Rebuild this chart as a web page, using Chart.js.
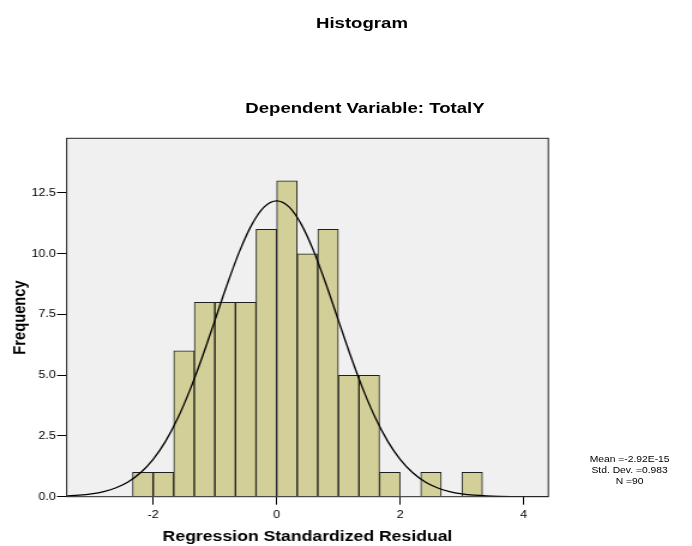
<!DOCTYPE html>
<html>
<head>
<meta charset="utf-8">
<script src="https://cdn.jsdelivr.net/npm/chart.js@4/dist/chart.umd.min.js"></script>
<style>
  html, body { margin: 0; padding: 0; background: #fff; overflow: hidden; }
  #wrap { position: absolute; left: 0; top: 0; width: 577px; height: 546px;
          transform: scaleX(1.1993); transform-origin: 0 0; }
  #c { position: absolute; left: 0; top: 0; }
  .t { position: absolute; font-family: 'Liberation Sans', Arial, sans-serif; color: #000;
       text-align: center; white-space: nowrap; }
  .title { font-weight: bold; font-size: 15.5px; line-height: 15.5px; width: 400px; }
  #stats { font-size: 8.6px; line-height: 11px; width: 160px; }
</style>
</head>
<body>
<div id="wrap">
  <canvas id="c" width="577" height="546"></canvas>
  <div class="t title" style="left:101.8px; top:14.7px;">Histogram</div>
  <div class="t title" style="left:104.3px; top:100.4px;">Dependent Variable: TotalY</div>
  <div class="t" id="stats" style="left:445px; top:453.5px;">Mean =-2.92E-15<br>Std. Dev. =0.983<br>N =90</div>
</div>
<script>
// ---- data ----
const binCenters = [-2.167, -1.833, -1.5, -1.167, -0.833, -0.5, -0.167, 0.167, 0.5, 0.833, 1.167, 1.5, 1.833, 2.167, 2.5, 2.833, 3.167];
const frequencies = [1, 1, 6, 8, 8, 8, 11, 13, 10, 11, 5, 5, 1, 0, 1, 0, 1];

// fitted normal curve (Mean ~0, Std. Dev. 0.983, N 90), values read at x steps of 0.2
const curveX = [-3.4, -3.2, -3.0, -2.8, -2.6, -2.4, -2.2, -2.0, -1.8, -1.6, -1.4, -1.2, -1.0, -0.8, -0.6, -0.4, -0.2, 0.0,
                0.2, 0.4, 0.6, 0.8, 1.0, 1.2, 1.4, 1.6, 1.8, 2.0, 2.2, 2.4, 2.6, 2.8, 3.0, 3.2, 3.4, 3.6, 3.8, 4.0, 4.2, 4.4];
const curveY = [0.031, 0.061, 0.116, 0.211, 0.369, 0.618, 0.995, 1.536, 2.277, 3.237, 4.416, 5.779, 7.257, 8.743, 10.106, 11.208, 11.926, 12.175,
                11.926, 11.208, 10.106, 8.743, 7.257, 5.779, 4.416, 3.237, 2.277, 1.536, 0.995, 0.618, 0.369, 0.211, 0.116, 0.061, 0.031, 0.015, 0.007, 0.003, 0.001, 0.001];

const xTicks = [-2, 0, 2, 4];
const yTicks = [0, 2.5, 5, 7.5, 10, 12.5];

const FONT = "'Liberation Sans', Arial, sans-serif";

const plotBox = {
  id: 'plotBox',
  beforeDatasetsDraw(chart) {
    const a = chart.chartArea, ctx = chart.ctx;
    ctx.save();
    ctx.fillStyle = '#F0F0F0';
    ctx.fillRect(a.left, a.top, a.right - a.left, a.bottom - a.top);
    ctx.restore();
  },
  afterDraw(chart) {
    const a = chart.chartArea, ctx = chart.ctx;
    ctx.save();
    ctx.strokeStyle = '#222';
    ctx.lineWidth = 1;
    ctx.strokeRect(a.left, a.top, a.right - a.left, a.bottom - a.top);
    ctx.restore();
  }
};

new Chart(document.getElementById('c'), {
  data: {
    datasets: [
      {
        type: 'line',
        order: 0,
        data: curveX.map((x, i) => ({ x: x, y: curveY[i] })),
        borderColor: '#000',
        borderWidth: 1.3,
        pointRadius: 0,
        cubicInterpolationMode: 'monotone',
        fill: false
      },
      {
        type: 'bar',
        order: 1,
        data: binCenters.map((x, i) => ({ x: x, y: frequencies[i] === 0 ? null : frequencies[i] })),
        backgroundColor: '#D3CF98',
        borderColor: '#1e1e1e',
        borderWidth: 1,
        borderSkipped: 'bottom',
        barPercentage: 1,
        categoryPercentage: 1
      }
    ]
  },
  options: {
    responsive: false,
    animation: false,
    devicePixelRatio: 1,
    layout: { padding: { top: 138.3, right: 119.8, left: 0, bottom: 0 } },
    plugins: { legend: { display: false }, tooltip: { enabled: false }, title: { display: false } },
    scales: {
      x: {
        type: 'linear',
        min: -3.4,
        max: 4.4,
        offset: false,
        afterFit(s) { s.height = 49.3; },
        afterBuildTicks(s) { s.ticks = xTicks.map(v => ({ value: v })); },
        grid: { display: true, drawOnChartArea: false, drawTicks: true, tickLength: 8, tickColor: '#000', offset: false },
        border: { display: false },
        ticks: { padding: 4, color: '#000', font: { family: FONT, size: 10.5 }, callback: v => String(v), maxRotation: 0, autoSkip: false },
        title: { display: true, text: 'Regression Standardized Residual', color: '#000',
                 font: { family: FONT, size: 14.7, weight: 'bold' }, padding: { top: 0, bottom: 0.4 } }
      },
      y: {
        type: 'linear',
        min: 0,
        max: 14.75,
        afterFit(s) { s.width = 55.6; },
        afterBuildTicks(s) { s.ticks = yTicks.map(v => ({ value: v })); },
        grid: { display: true, drawOnChartArea: false, drawTicks: true, tickLength: 8, tickColor: '#000' },
        border: { display: false },
        ticks: { padding: 1, color: '#000', font: { family: FONT, size: 10.5 }, callback: v => Number(v).toFixed(1), autoSkip: false },
        title: { display: true, text: 'Frequency', color: '#000',
                 font: { family: FONT, size: 14.7, weight: 'bold' }, padding: { top: 7.9, bottom: 0 } }
      }
    }
  },
  plugins: [plotBox]
});
</script>
</body>
</html>
